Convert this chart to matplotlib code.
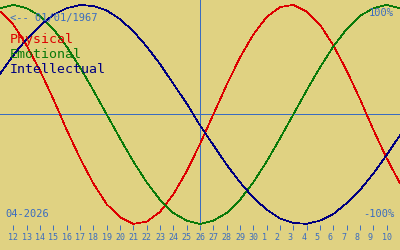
import matplotlib
matplotlib.use("Agg")
import matplotlib.pyplot as plt

# day labels along the bottom (April 12 .. May 10), curves run one day past each end
day_labels = [12, 13, 14, 15, 16, 17, 18, 19, 20, 21, 22, 23, 24, 25, 26, 27, 28, 29, 30,
              1, 2, 3, 4, 5, 6, 7, 8, 9, 10]
today_label = 26

# values in percent, one per day from April 11 to May 11
physical = [94, 82, 63, 40, 14, -14, -40, -63, -82, -94, -100, -98, -89, -73, -52, -27,
            0, 27, 52, 73, 89, 98, 100, 94, 82, 63, 40, 14, -14, -40, -63]
emotional = [97, 100, 97, 90, 78, 62, 43, 22, 0, -22, -43, -62, -78, -90, -97, -100,
             -97, -90, -78, -62, -43, -22, 0, 22, 43, 62, 78, 90, 97, 100, 97]
intellectual = [37, 54, 69, 81, 91, 97, 100, 99, 95, 87, 76, 62, 46, 28, 10, -10,
                -28, -46, -62, -76, -87, -95, -99, -100, -97, -91, -81, -69, -54, -37, -19]

birth = "01/01/1967"
month = "04-2026"

bg = "#e0d282"
blue = "#3a6cc0"
cols = {"Physical": "#dd0000", "Emotional": "#0a7a0a", "Intellectual": "#000080"}

W, H = 400, 250
fig = plt.figure(figsize=(4, 2.5), dpi=100, facecolor=bg)
ax = fig.add_axes([0, 25 / H, 1, 225 / H])
ax.set_facecolor(bg)
for s in ax.spines.values():
    s.set_visible(False)

xs = list(range(len(physical)))
ax.set_xlim(0, len(physical) - 1)
ax.set_ylim(-101, 104.5)

ax.axhline(0, color=blue, lw=0.6, antialiased=False)
ax.axvline(day_labels.index(today_label) + 1, color=blue, lw=0.6, antialiased=False)

for name, vals in [("Physical", physical), ("Emotional", emotional), ("Intellectual", intellectual)]:
    ax.plot(xs, vals, color=cols[name], lw=0.5, clip_on=False, antialiased=False)

ax.set_xticks(range(1, len(day_labels) + 1))
ax.set_xticklabels([f"{d:<2d}" for d in day_labels], family="DejaVu Sans Mono",
                   fontsize=6, color=blue)
ax.tick_params(axis="x", direction="out", length=3.6, width=0.7, color=blue, pad=2.5)
ax.set_yticks([])


def ftext(x, y, s, **kw):
    fig.text(x / W, 1 - y / H, s, family="DejaVu Sans Mono", va="baseline", **kw)


ftext(10, 21, "<-- " + birth, fontsize=7.5, color=blue)
ftext(394, 16, "100%", fontsize=7.5, color=blue, ha="right")
ftext(394, 217, "-100%", fontsize=7.5, color=blue, ha="right")
ftext(5, 217, month, fontsize=7.5, color=blue)
for k, name in enumerate(["Physical", "Emotional", "Intellectual"]):
    ftext(10, 43 + 15 * k, name, fontsize=9.5, color=cols[name])

fig.savefig("out.png", dpi=100, facecolor=bg)
